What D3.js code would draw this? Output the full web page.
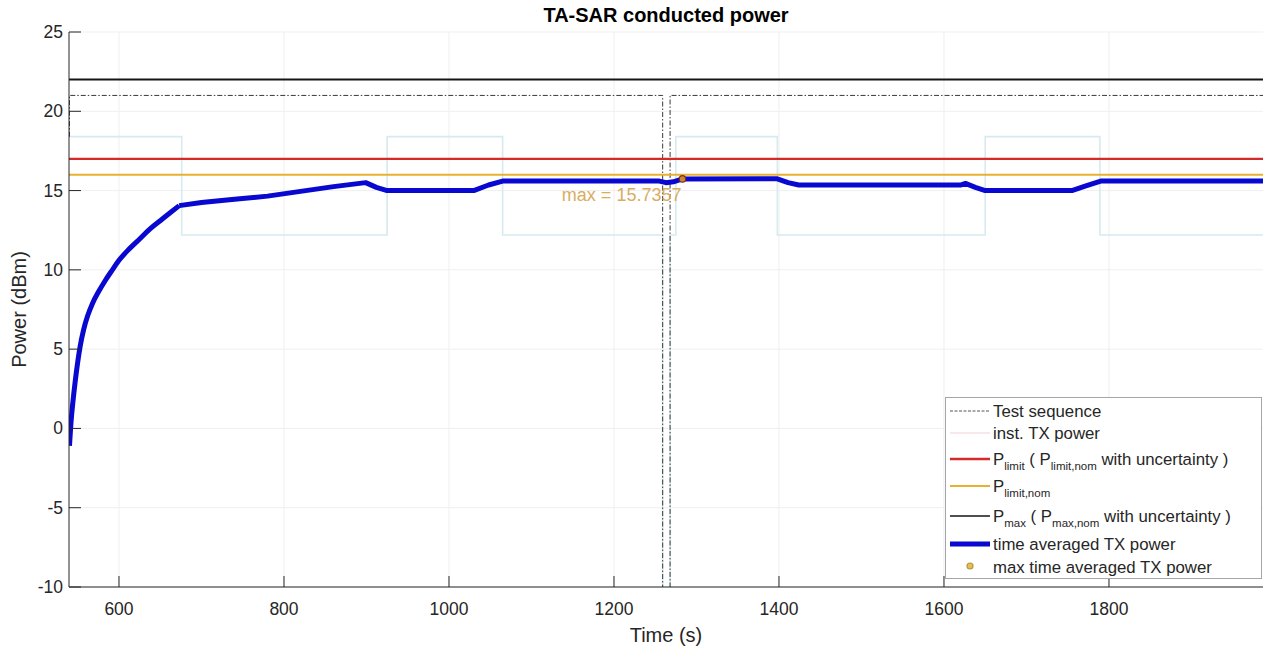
<!DOCTYPE html>
<html>
<head>
<meta charset="utf-8">
<script src="https://cdn.jsdelivr.net/npm/d3@7"></script>
<style>
  html, body { margin: 0; padding: 0; background: #fff; }
  svg { display: block; font-family: "Liberation Sans", Arial, Helvetica, sans-serif; }
</style>
</head>
<body>
<svg id="chart" width="1266" height="647"></svg>
<script>
// TA-SAR conducted power: time-averaged TX power vs. limits

const xTicks = [600, 800, 1000, 1200, 1400, 1600, 1800];
const yTicks = [-10, -5, 0, 5, 10, 15, 20, 25];

// time averaged TX power (s, dBm) — ramp-up part drawn smooth
const rampT = [540, 542, 544, 547, 550, 553, 557, 562, 568, 575, 583, 592, 600, 612, 625, 638, 650, 662, 673];
const rampP = [-1.1, 0.5, 1.6, 3.0, 4.2, 5.2, 6.2, 7.1, 7.9, 8.6, 9.3, 10.0, 10.6, 11.3, 11.95, 12.6, 13.1, 13.6, 14.05];
const avgT = [673, 700, 740, 780, 820, 860, 899, 912, 925, 1030, 1048, 1065, 1255, 1263, 1272, 1283, 1398, 1411, 1424,
  1620, 1626, 1638, 1650, 1755, 1772, 1790, 1987];
const avgP = [14.05, 14.25, 14.45, 14.65, 14.95, 15.25, 15.5, 15.2, 15.0, 15.0, 15.35, 15.6, 15.6, 15.5, 15.55, 15.7357, 15.74, 15.5, 15.35,
  15.35, 15.45, 15.2, 15.0, 15.0, 15.3, 15.6, 15.6];

// instantaneous TX power (step after)
const instT = [540, 676, 925, 1065, 1259, 1268, 1275, 1398, 1650, 1789, 1987];
const instP = [18.4, 12.2, 18.4, 12.2, -15, 12.2, 18.4, 12.2, 18.4, 12.2, 12.2];

// test sequence
const testT = [540, 540, 1259, 1259, 1268, 1268, 1987];
const testP = [18.4, 21, 21, -15, -15, 21, 21];

const pMax = 22, pLimit = 17, pLimitNom = 16;
const maxT = 1283, maxP = 15.7357;

const svg = d3.select("#chart");
const ML = 69, MR = 1263, MT = 32, MB = 587;
const x = d3.scaleLinear().domain([539.4, 1986.7]).range([ML, MR]);
const y = d3.scaleLinear().domain([-10, 25]).range([MB, MT]);
const INK = "#262626";

svg.append("defs").append("clipPath").attr("id", "clip")
  .append("rect").attr("x", ML).attr("y", MT).attr("width", MR - ML).attr("height", MB - MT);

// grid
xTicks.forEach(v => svg.append("line")
  .attr("x1", x(v)).attr("x2", x(v)).attr("y1", MT).attr("y2", MB)
  .attr("stroke", "#efefef").attr("stroke-width", 1));
yTicks.forEach(v => svg.append("line")
  .attr("x1", ML).attr("x2", MR).attr("y1", y(v)).attr("y2", y(v))
  .attr("stroke", "#efefef").attr("stroke-width", 1));

const plot = svg.append("g").attr("clip-path", "url(#clip)");
const pair = (ts, ps) => ts.map((t, i) => [t, ps[i]]);
const lineStep = d3.line().x(d => x(d[0])).y(d => y(d[1])).curve(d3.curveStepAfter);
const lineLin = d3.line().x(d => x(d[0])).y(d => y(d[1]));
const lineSmooth = d3.line().x(d => x(d[0])).y(d => y(d[1])).curve(d3.curveMonotoneX);

// inst. TX power
plot.append("path")
  .attr("d", lineStep(pair(instT, instP)))
  .attr("fill", "none").attr("stroke", "#d6eaf0").attr("stroke-width", 1.6);

// test sequence
plot.append("path")
  .attr("d", lineLin(pair(testT, testP)))
  .attr("fill", "none").attr("stroke", "#3a3a3a").attr("stroke-width", 1)
  .attr("stroke-dasharray", "5 2 1.5 2");

// limit lines
const hl = (v, col, w) => plot.append("line")
  .attr("x1", ML).attr("x2", MR).attr("y1", y(v)).attr("y2", y(v))
  .attr("stroke", col).attr("stroke-width", w);
hl(pMax, "#151515", 2);
hl(pLimit, "#d42a2a", 2.4);
hl(pLimitNom, "#e8b030", 2);

// time averaged TX power
const avgStyle = p => p.attr("fill", "none").attr("stroke", "#0808d0").attr("stroke-width", 5)
  .attr("stroke-linejoin", "round");
avgStyle(plot.append("path").attr("d", lineSmooth(pair(rampT, rampP))));
avgStyle(plot.append("path").attr("d", lineLin(pair(avgT, avgP))));

// max marker + label
svg.append("circle").attr("cx", x(maxT)).attr("cy", y(maxP)).attr("r", 3.2)
  .attr("fill", "#c88a30").attr("stroke", "#7a2a2a").attr("stroke-width", 1.2);
svg.append("text").attr("x", x(maxT) - 1).attr("y", 201)
  .attr("text-anchor", "end").attr("fill", "#d8ad62").style("font-size", "18px")
  .text("max = " + maxP);

// axes
svg.append("line").attr("x1", ML).attr("x2", ML).attr("y1", MT).attr("y2", MB)
  .attr("stroke", INK).attr("stroke-width", 1);
svg.append("line").attr("x1", ML).attr("x2", MR).attr("y1", MB).attr("y2", MB)
  .attr("stroke", INK).attr("stroke-width", 1);
xTicks.forEach(v => {
  svg.append("line").attr("x1", x(v)).attr("x2", x(v)).attr("y1", MB).attr("y2", MB - 11)
    .attr("stroke", INK);
  svg.append("text").attr("x", x(v)).attr("y", 615).attr("text-anchor", "middle")
    .attr("fill", INK).style("font-size", "17.5px").text(v);
});
yTicks.forEach(v => {
  svg.append("line").attr("x1", ML).attr("x2", ML + 12).attr("y1", y(v)).attr("y2", y(v))
    .attr("stroke", INK);
  svg.append("text").attr("x", ML - 6).attr("y", y(v) + 6).attr("text-anchor", "end")
    .attr("fill", INK).style("font-size", "17.5px").text(v);
});

// labels
svg.append("text").attr("x", (ML + MR) / 2).attr("y", 22).attr("text-anchor", "middle")
  .attr("fill", "#000").style("font-size", "20px").style("font-weight", "bold")
  .text("TA-SAR conducted power");
svg.append("text").attr("x", (ML + MR) / 2).attr("y", 642).attr("text-anchor", "middle")
  .attr("fill", INK).style("font-size", "20px").text("Time (s)");
svg.append("text").attr("transform", `translate(26,${(MT + MB) / 2}) rotate(-90)`)
  .attr("text-anchor", "middle").attr("fill", INK).style("font-size", "20px").text("Power (dBm)");

// legend
const lg = svg.append("g");
lg.append("rect").attr("x", 945.5).attr("y", 397.5).attr("width", 316).attr("height", 181)
  .attr("fill", "#fff").attr("stroke", "#a6a6a6").attr("stroke-width", 1);
const rows = [
  { cy: 411, stroke: "#555", w: 1, dash: "3 1.5", parts: [["Test sequence"]] },
  { cy: 433, stroke: "#f3d2d6", w: 1.2, parts: [["inst. TX power"]] },
  { cy: 459, stroke: "#d42a2a", w: 2.4, parts: [["P"], ["limit", 1], [" ( P"], ["limit,nom", 1], [" with uncertainty )"]] },
  { cy: 486, stroke: "#e8b030", w: 2, parts: [["P"], ["limit,nom", 1]] },
  { cy: 516, stroke: "#151515", w: 1.5, parts: [["P"], ["max", 1], [" ( P"], ["max,nom", 1], [" with uncertainty )"]] },
  { cy: 544, stroke: "#0808d0", w: 5, parts: [["time averaged TX power"]] },
  { cy: 567, marker: true, parts: [["max time averaged TX power"]] },
];
rows.forEach(r => {
  if (r.marker) {
    lg.append("circle").attr("cx", 970).attr("cy", r.cy - 1).attr("r", 3)
      .attr("fill", "#e3c050").attr("stroke", "#b09a40").attr("stroke-width", 1.2);
  } else {
    lg.append("line").attr("x1", 950).attr("x2", 990).attr("y1", r.cy).attr("y2", r.cy)
      .attr("stroke", r.stroke).attr("stroke-width", r.w).attr("stroke-dasharray", r.dash || null);
  }
  const t = lg.append("text").attr("x", 993).attr("y", r.cy + 6).attr("fill", INK).style("font-size", "16.8px");
  let sub = false;
  r.parts.forEach(p => {
    const isSub = !!p[1];
    const ts = t.append("tspan").text(p[0]);
    if (isSub) ts.style("font-size", "11.5px");
    if (isSub && !sub) ts.attr("dy", 5);
    else if (!isSub && sub) ts.attr("dy", -5);
    sub = isSub;
  });
});
</script>
</body>
</html>
